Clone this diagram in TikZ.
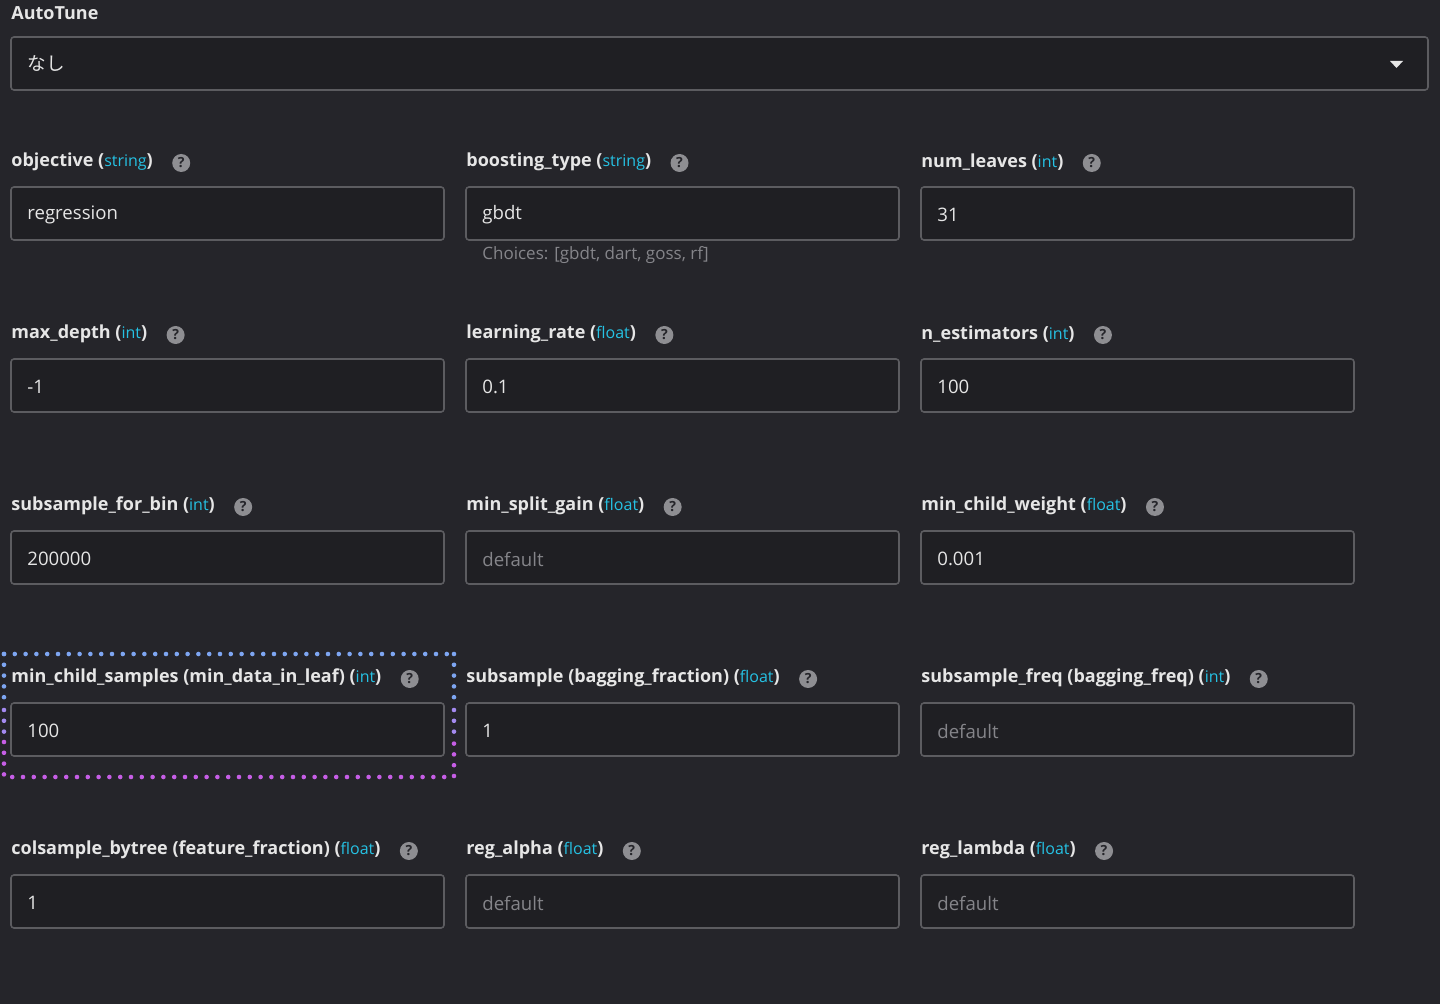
\documentclass[tikz,border=0pt]{standalone}
\usepackage{fontspec}
\setmainfont{Open Sans}
\newfontfamily\cjk{Noto Sans CJK JP}
\begin{document}
\definecolor{bg}{HTML}{25252A}
\definecolor{boxbg}{HTML}{1F1F23}
\definecolor{bord}{HTML}{5C5C60}
\definecolor{txt}{HTML}{E6E6E6}
\definecolor{typ}{HTML}{26C2E4}
\definecolor{ph}{HTML}{85858A}
\definecolor{helpc}{HTML}{8E8E92}
\definecolor{dblue}{HTML}{7EA6F2}
\definecolor{dmid}{HTML}{A48AF0}
\definecolor{dpurp}{HTML}{C65EE6}
\begin{tikzpicture}[x=0.5pt,y=-0.5pt,
  lab/.style={anchor=west,inner sep=0pt,text=txt,font=\fontsize{9}{10}\selectfont\bfseries},
  box/.style={draw=bord,fill=boxbg,line width=0.8pt,rounded corners=1.5pt},
  val/.style={anchor=west,inner sep=0pt,text=txt,font=\fontsize{9.3}{10}\selectfont},
  phv/.style={val,text=ph},
  help/.style={circle,fill=helpc,minimum size=9pt,inner sep=0pt,text=bg,font=\fontsize{7}{7}\selectfont\bfseries},
  dots/.style={line width=2.3pt,line cap=round,dash pattern=on 0pt off 5.4pt}]
\fill[bg] (0,0) rectangle (1440,1004);
\useasboundingbox (0,0) rectangle (1440,1004);
% AutoTune
\node[lab] (at) at (11,13) {AutoTune};
\draw[box] (11,37) rectangle (1428,90);
\node[val] (nashi) at (27,64) {\cjk なし};
\fill[txt] (1390,61) -- (1403,61) -- (1396.5,68) -- cycle;
% fields
\newcommand\fld[8]{%
  \node[lab] (#1l) at (#2,#3+2) {#4 (\textcolor{typ}{\fontseries{m}\fontsize{8}{9}\selectfont #5})};
  \node[help] (#1h) at ([xshift=14pt,yshift=-0.5pt]#1l.east) {?};
  \draw[box] (#2,#3+27) rectangle (#2+433,#3+80);
  \node[#7] (#1v) at (#2+16,#3+55) {#6};
  #8}
\fld{a}{11}{160}{objective}{string}{regression}{val}{}
\fld{b}{466}{160}{boosting\_type}{string}{gbdt}{val}{\node[anchor=west,inner sep=0pt,text=ph,font=\fontsize{8.5}{9}\selectfont] (bc) at (482,255) {Choices: [gbdt, dart, goss, rf]};}
\fld{c}{921}{160}{num\_leaves}{int}{31}{val}{}
\fld{d}{11}{332}{max\_depth}{int}{-1}{val}{}
\fld{e}{466}{332}{learning\_rate}{float}{0.1}{val}{}
\fld{f}{921}{332}{n\_estimators}{int}{100}{val}{}
\fld{g}{11}{504}{subsample\_for\_bin}{int}{200000}{val}{}
\fld{h}{466}{504}{min\_split\_gain}{float}{default}{phv}{}
\fld{i}{921}{504}{min\_child\_weight}{float}{0.001}{val}{}
\fld{j}{11}{676}{min\_child\_samples (min\_data\_in\_leaf)}{int}{100}{val}{}
\fld{k}{466}{676}{subsample (bagging\_fraction)}{float}{1}{val}{}
\fld{l}{921}{676}{subsample\_freq (bagging\_freq)}{int}{default}{phv}{}
\fld{m}{11}{848}{colsample\_bytree (feature\_fraction)}{float}{1}{val}{}
\fld{n}{466}{848}{reg\_alpha}{float}{default}{phv}{}
\fld{o}{921}{848}{reg\_lambda}{float}{default}{phv}{}
% dotted highlight
\draw[dots,dblue] (4,654) -- (454,654);
\draw[dots,dblue] (4,654) -- (4,700);
\draw[dots,dblue] (454,654) -- (454,700);
\draw[dots,dmid] (4,710) -- (4,732);
\draw[dots,dmid] (454,710) -- (454,732);
\draw[dots,dpurp] (4,742) -- (4,777) -- (454,777) -- (454,742);
\end{tikzpicture}
\end{document}
